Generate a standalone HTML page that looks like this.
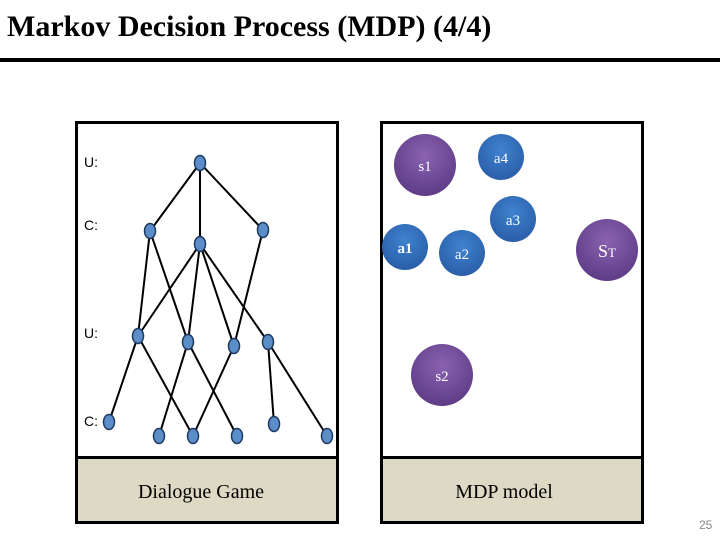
<!DOCTYPE html>
<html><head><style>
body{margin:0;width:720px;height:540px;background:#fff;overflow:hidden;position:relative;font-family:"Liberation Serif",serif}
.title{position:absolute;left:7px;top:10px;font-size:30px;font-weight:bold;color:#000}
.rule{position:absolute;left:0;top:58px;width:720px;height:4px;background:#000}
.num{position:absolute;left:699px;top:518px;font:12px "Liberation Sans",sans-serif;color:#888}
</style></head><body>
<div class="title">Markov Decision Process (MDP) (4/4)</div>
<div class="rule"></div>
<svg width="720" height="540" style="position:absolute;left:0;top:0">
<defs>
<radialGradient id="p" cx="50%" cy="35%" r="65%"><stop offset="0" stop-color="#8a62b0"/><stop offset="1" stop-color="#5e3c86"/></radialGradient>
<radialGradient id="b" cx="50%" cy="35%" r="65%"><stop offset="0" stop-color="#3f82cf"/><stop offset="1" stop-color="#2a5ea8"/></radialGradient>
</defs>
<rect x="76.5" y="122.5" width="261" height="400" fill="#fff" stroke="#000" stroke-width="3"/>
<rect x="78" y="458" width="258" height="63" fill="#ddd9c4"/>
<line x1="76" y1="457.5" x2="338" y2="457.5" stroke="#000" stroke-width="3"/>
<rect x="381.5" y="122.5" width="261" height="400" fill="#fff" stroke="#000" stroke-width="3"/>
<rect x="383" y="458" width="258" height="63" fill="#ddd9c4"/>
<line x1="381" y1="457.5" x2="643" y2="457.5" stroke="#000" stroke-width="3"/>
<text x="201" y="498" font-size="20" text-anchor="middle" font-family="Liberation Serif">Dialogue Game</text>
<text x="504" y="498" font-size="20" text-anchor="middle" font-family="Liberation Serif">MDP model</text>
<g font-family="Liberation Sans" font-size="14" fill="#000">
<text x="84" y="167">U:</text><text x="84" y="230">C:</text><text x="84" y="338">U:</text><text x="84" y="426">C:</text>
</g>
<g stroke="#000" stroke-width="2">
<line x1="200" y1="163" x2="150" y2="231"/><line x1="200" y1="163" x2="200" y2="244"/><line x1="200" y1="163" x2="263" y2="230"/>
<line x1="150" y1="231" x2="138" y2="336"/><line x1="150" y1="231" x2="188" y2="342"/>
<line x1="200" y1="244" x2="138" y2="336"/><line x1="200" y1="244" x2="188" y2="342"/><line x1="200" y1="244" x2="234" y2="346"/><line x1="200" y1="244" x2="268" y2="342"/>
<line x1="263" y1="230" x2="234" y2="346"/>
<line x1="138" y1="336" x2="109" y2="422"/><line x1="138" y1="336" x2="193" y2="436"/>
<line x1="188" y1="342" x2="159" y2="436"/><line x1="188" y1="342" x2="237" y2="436"/>
<line x1="234" y1="346" x2="193" y2="436"/>
<line x1="268" y1="342" x2="274" y2="424"/><line x1="268" y1="342" x2="327" y2="436"/>
</g>
<g fill="#5b8dc9" stroke="#1f3a5f" stroke-width="1.5">
<ellipse cx="200" cy="163" rx="5.5" ry="7.5"/>
<ellipse cx="150" cy="231" rx="5.5" ry="7.5"/><ellipse cx="200" cy="244" rx="5.5" ry="7.5"/><ellipse cx="263" cy="230" rx="5.5" ry="7.5"/>
<ellipse cx="138" cy="336" rx="5.5" ry="7.5"/><ellipse cx="188" cy="342" rx="5.5" ry="7.5"/><ellipse cx="234" cy="346" rx="5.5" ry="7.5"/><ellipse cx="268" cy="342" rx="5.5" ry="7.5"/>
<ellipse cx="109" cy="422" rx="5.5" ry="7.5"/><ellipse cx="159" cy="436" rx="5.5" ry="7.5"/><ellipse cx="193" cy="436" rx="5.5" ry="7.5"/><ellipse cx="237" cy="436" rx="5.5" ry="7.5"/><ellipse cx="274" cy="424" rx="5.5" ry="7.5"/><ellipse cx="327" cy="436" rx="5.5" ry="7.5"/>
</g>
<circle cx="425" cy="165" r="31" fill="url(#p)"/>
<circle cx="607" cy="250" r="31" fill="url(#p)"/>
<circle cx="442" cy="375" r="31" fill="url(#p)"/>
<circle cx="501" cy="157" r="23" fill="url(#b)"/>
<circle cx="513" cy="219" r="23" fill="url(#b)"/>
<circle cx="405" cy="247" r="23" fill="url(#b)"/>
<circle cx="462" cy="253" r="23" fill="url(#b)"/>
<g fill="#fff" font-family="Liberation Serif" font-size="15" text-anchor="middle">
<text x="425" y="171">s1</text><text x="442" y="381">s2</text>
<text x="501" y="163">a4</text><text x="513" y="225">a3</text>
<text x="405" y="253" font-weight="bold">a1</text><text x="462" y="259">a2</text>
<text x="607" y="257" font-size="18">S<tspan font-size="13">T</tspan></text>
</g>
</svg>
<div class="num">25</div>
</body></html>
